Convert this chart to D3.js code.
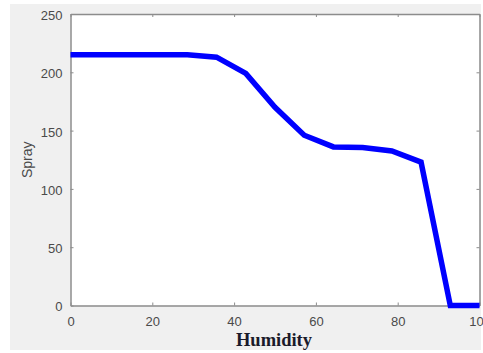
<!DOCTYPE html>
<html><head><meta charset="utf-8">
<script src="https://cdn.jsdelivr.net/npm/d3@7"></script>
<style>html,body{margin:0;padding:0;background:#fff;}svg{display:block;}</style>
</head><body>
<script>
const humidity = [0, 7.14, 14.29, 21.43, 28.57, 35.71, 42.86, 50, 57.14, 64.29, 71.43, 78.57, 85.71, 92.86, 100];
const spray = [215, 215, 215, 215, 215, 213, 199, 170, 146, 136, 135.5, 132.5, 123, 0, 0];
const xTicks = [0, 20, 40, 60, 80, 100];
const yTicks = [0, 50, 100, 150, 200, 250];

const W = 483, H = 353;
const svg = d3.select("body").append("svg").attr("width", W).attr("height", H);
svg.append("rect").attr("x", 10).attr("y", 4).attr("width", 471).attr("height", 346).attr("fill", "#f0f0f0");

const L = 70.5, R = 479.5, T = 14, B = 305.5;
const x = d3.scaleLinear().domain([0, 100]).range([L, R]);
const y = d3.scaleLinear().domain([0, 250]).range([B, T]);

svg.append("rect").attr("x", L).attr("y", T).attr("width", R - L).attr("height", B - T).attr("fill", "#fff");

const axisColor = "#8c8c8c";
const fontFam = "Liberation Sans, Arial, sans-serif";

function styleAxis(g, labels) {
  g.select(".domain").attr("stroke", axisColor).attr("stroke-width", 1.5);
  g.selectAll(".tick line").attr("stroke", axisColor).attr("stroke-width", 1);
  g.selectAll(".tick text").attr("fill", labels ? "#4a4a4a" : "none")
    .style("font-family", fontFam).style("font-size", "13px");
}

const gx = svg.append("g").attr("transform", `translate(0,${B})`)
  .call(d3.axisBottom(x).tickValues(xTicks).tickSizeInner(-3).tickSizeOuter(0).tickPadding(11).tickFormat(d3.format("d")));
styleAxis(gx, true);
const gxt = svg.append("g").attr("transform", `translate(0,${T})`)
  .call(d3.axisTop(x).tickValues(xTicks).tickSizeInner(-3).tickSizeOuter(0).tickFormat(""));
styleAxis(gxt, false);
const gy = svg.append("g").attr("transform", `translate(${L},0)`)
  .call(d3.axisLeft(y).tickValues(yTicks).tickSizeInner(-3).tickSizeOuter(0).tickPadding(8).tickFormat(d3.format("d")));
styleAxis(gy, true);
gy.selectAll(".tick text").attr("dy", "0.42em");
const gyr = svg.append("g").attr("transform", `translate(${R},0)`)
  .call(d3.axisRight(y).tickValues(yTicks).tickSizeInner(-3).tickSizeOuter(0).tickFormat(""));
styleAxis(gyr, false);

const line = d3.line().x((d, i) => x(humidity[i])).y(d => y(d));
svg.append("path").datum(spray).attr("d", line)
  .attr("fill", "none").attr("stroke", "#0000ff").attr("stroke-width", 5.5)
  .attr("stroke-linejoin", "miter");

svg.append("text").attr("x", 274).attr("y", 346)
  .attr("text-anchor", "middle").attr("fill", "#1a1a2a")
  .style("font-family", "Liberation Serif, Times New Roman, serif")
  .style("font-weight", "bold").style("font-size", "18.5px").text("Humidity");

svg.append("text").attr("transform", `translate(32,${(T + B) / 2}) rotate(-90)`)
  .attr("text-anchor", "middle").attr("fill", "#4a4a4a")
  .style("font-family", fontFam).style("font-size", "14px").text("Spray");
</script>
</body></html>
